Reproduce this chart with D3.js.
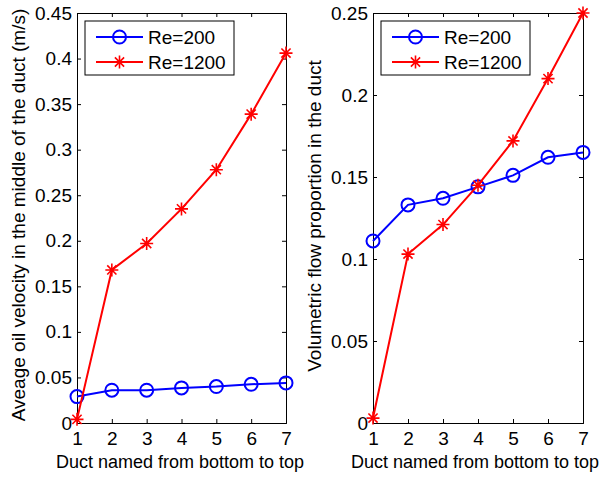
<!DOCTYPE html>
<html>
<head>
<meta charset="utf-8">
<script src="https://cdn.jsdelivr.net/npm/d3@7"></script>
<style>
  body { margin: 0; background: #fff; }
  svg { display: block; font-family: "Liberation Sans", Arial, sans-serif; }
</style>
</head>
<body>
<div id="chart"></div>
<script>
// Chart data
const ducts = [1, 2, 3, 4, 5, 6, 7];
const seriesNames = ["Re=200", "Re=1200"];
const velocityRe200 = [0.029, 0.036, 0.036, 0.0385, 0.040, 0.0425, 0.044];
const velocityRe1200 = [0.004, 0.168, 0.197, 0.235, 0.278, 0.339, 0.406];
const flowRe200 = [0.111, 0.133, 0.137, 0.144, 0.151, 0.162, 0.165];
const flowRe1200 = [0.003, 0.103, 0.121, 0.145, 0.172, 0.210, 0.250];
const velocityTicks = [0, 0.05, 0.1, 0.15, 0.2, 0.25, 0.3, 0.35, 0.4, 0.45];
const flowTicks = [0, 0.05, 0.1, 0.15, 0.2, 0.25];
const xLabel = "Duct named from bottom to top";
const velocityLabel = "Aveage oil velocity in the middle of the duct (m/s)";
const flowLabel = "Volumetric flow proportion in the duct";

const W = 604, H = 477;
const fontSize = "18px";
const yLabelSize = "19px";

const svg = d3.select("#chart")
    .append("svg")
    .attr("width", W)
    .attr("height", H);

// Draw the MATLAB-style star marker (plus + cross)
function starPath(r) {
    const d = r * 0.7071;
    return `M${-r},0L${r},0M0,${-r}L0,${r}M${-d},${-d}L${d},${d}M${-d},${d}L${d},${-d}`;
}

function drawPanel(opts) {
    const { left, right, top, bottom, yMax, yTicks, s200, s1200, yLabel, yLabelX, yLabelY, xLabelX } = opts;
    const width = right - left;
    const height = bottom - top;

    const g = svg.append("g").attr("transform", `translate(${left},${top})`);

    const x = d3.scaleLinear().domain([1, 7]).range([0, width]);
    const y = d3.scaleLinear().domain([0, yMax]).range([height, 0]);

    const fmt = d => String(+d.toFixed(2));

    // Axes with inward ticks on all four sides
    g.append("g")
        .attr("transform", `translate(0,${height})`)
        .call(d3.axisBottom(x).tickValues(ducts).tickSize(-4).tickPadding(9).tickFormat(d3.format("d")));
    g.append("g")
        .call(d3.axisTop(x).tickValues(ducts).tickSize(-4).tickFormat(""));
    g.append("g")
        .call(d3.axisLeft(y).tickValues(yTicks).tickSize(-4).tickPadding(5).tickFormat(fmt));
    g.append("g")
        .attr("transform", `translate(${width},0)`)
        .call(d3.axisRight(y).tickValues(yTicks).tickSize(-4).tickFormat(""));

    g.selectAll(".domain").attr("stroke", "#000").attr("stroke-width", 1);
    g.selectAll(".tick line").attr("stroke", "#000");
    g.selectAll(".tick text")
        .style("font-size", "19px")
        .style("font-family", "Liberation Sans, Arial, sans-serif")
        .attr("fill", "#000");

    const line = d3.line()
        .x((d, i) => x(ducts[i]))
        .y(d => y(d));

    // Re=200 (blue circles)
    g.append("path")
        .datum(s200)
        .attr("fill", "none")
        .attr("stroke", "#0000ff")
        .attr("stroke-width", 2)
        .attr("d", line);
    g.selectAll(".c200")
        .data(s200)
        .enter()
        .append("circle")
        .attr("cx", (d, i) => x(ducts[i]))
        .attr("cy", d => y(d))
        .attr("r", 6.5)
        .attr("fill", "none")
        .attr("stroke", "#0000ff")
        .attr("stroke-width", 2);

    // Re=1200 (red stars)
    g.append("path")
        .datum(s1200)
        .attr("fill", "none")
        .attr("stroke", "#ff0000")
        .attr("stroke-width", 2)
        .attr("d", line);
    g.selectAll(".s1200")
        .data(s1200)
        .enter()
        .append("path")
        .attr("transform", (d, i) => `translate(${x(ducts[i])},${y(d)})`)
        .attr("d", starPath(6.5))
        .attr("fill", "none")
        .attr("stroke", "#ff0000")
        .attr("stroke-width", 1.6);

    // Legend
    const lg = g.append("g").attr("transform", "translate(8,8)");
    lg.append("rect")
        .attr("width", 149)
        .attr("height", 54)
        .attr("fill", "#fff")
        .attr("stroke", "#000")
        .attr("stroke-width", 1);
    const colors = ["#0000ff", "#ff0000"];
    seriesNames.forEach((name, i) => {
        const cy = 16 + i * 25;
        lg.append("line")
            .attr("x1", 11).attr("x2", 58)
            .attr("y1", cy).attr("y2", cy)
            .attr("stroke", colors[i])
            .attr("stroke-width", 2);
        if (i === 0) {
            lg.append("circle")
                .attr("cx", 34.5).attr("cy", cy).attr("r", 6.5)
                .attr("fill", "none").attr("stroke", colors[i]).attr("stroke-width", 2);
        } else {
            lg.append("path")
                .attr("transform", `translate(34.5,${cy})`)
                .attr("d", starPath(6.5))
                .attr("fill", "none").attr("stroke", colors[i]).attr("stroke-width", 1.6);
        }
        lg.append("text")
            .attr("x", 63)
            .attr("y", cy)
            .attr("dy", "0.36em")
            .style("font-size", "19px")
            .text(name);
    });

    // Axis labels
    svg.append("text")
        .attr("x", xLabelX)
        .attr("y", 468)
        .attr("text-anchor", "middle")
        .style("font-size", fontSize)
        .text(xLabel);
    svg.append("text")
        .attr("transform", `translate(${yLabelX},${yLabelY}) rotate(-90)`)
        .attr("text-anchor", "middle")
        .attr("dy", "0.35em")
        .style("font-size", yLabelSize)
        .text(yLabel);
}

drawPanel({
    left: 77, right: 286, top: 13, bottom: 423,
    yMax: 0.45, yTicks: velocityTicks,
    s200: velocityRe200, s1200: velocityRe1200,
    yLabel: velocityLabel, yLabelX: 18, yLabelY: 215, xLabelX: 180
});

drawPanel({
    left: 373, right: 583, top: 13, bottom: 423,
    yMax: 0.25, yTicks: flowTicks,
    s200: flowRe200, s1200: flowRe1200,
    yLabel: flowLabel, yLabelX: 314, yLabelY: 216, xLabelX: 475
});
</script>
</body>
</html>
